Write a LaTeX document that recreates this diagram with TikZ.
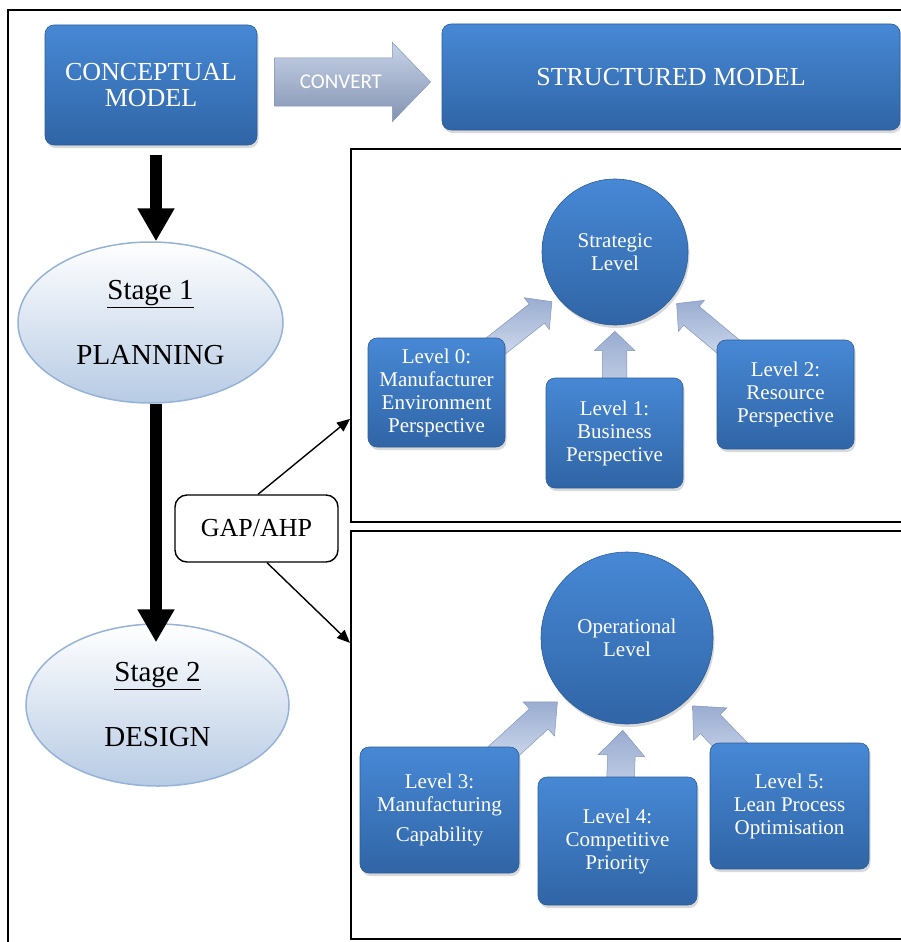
\documentclass[tikz,border=0pt]{standalone}
\usepackage{fontspec}
\setmainfont{Liberation Serif}
\newfontfamily\convertfont{Carlito}
\usetikzlibrary{backgrounds,arrows.meta,shapes,shapes.arrows,shapes.geometric,positioning,shadows,calc}
\definecolor{bluetop}{HTML}{4788D5}
\definecolor{bluebot}{HTML}{3065A6}
\definecolor{blueline}{HTML}{2B5C9A}
\definecolor{ovalline}{HTML}{95B3D7}
\definecolor{ovalbot}{HTML}{B7CBE4}
\definecolor{arrowdark}{HTML}{9AADD1}
\definecolor{arrowlight}{HTML}{E4EBF6}
\definecolor{arrowline}{HTML}{8396BD}
\tikzset{
	level/.style={
		rectangle,
		rounded corners=9pt,
		draw=blueline, line width=0.6pt,
		top color=bluetop, bottom color=bluebot,
		drop shadow={shadow xshift=1.5pt, shadow yshift=-3pt, opacity=0.3},
		text=white,
		align=center,
		inner sep=0pt,
		font=\fontsize{21}{23}\selectfont,
	},
	hub/.style={level, circle},
	stage/.style={
		ellipse,
		draw=ovalline, line width=1.5pt,
		top color=white, bottom color=ovalbot,
		inner sep=0pt,
		align=center,
		font=\fontsize{29}{35}\selectfont,
	},
	tag/.style={
		rectangle,
		rounded corners=12pt,
		draw, line width=1.4pt,
		fill=white,
		font=\fontsize{26}{26}\selectfont,
	},
	panel/.style={draw, line width=1.8pt, inner sep=0pt, anchor=north west},
	convert/.style={
		single arrow,
		single arrow head extend=15.5pt, single arrow tip angle=92,
		minimum width=79pt, minimum height=156pt,
		draw=arrowline, line width=0.5pt,
		top color=arrowlight!60!arrowdark, bottom color=arrowdark!85!black,
		text=white, inner xsep=0pt, inner ysep=17pt,
		font=\convertfont\fontsize{21}{21}\selectfont,
	},
	lift/.style={
		single arrow,
		single arrow head extend=8pt, single arrow tip angle=93,
		minimum height=110pt,
		draw=arrowline, line width=0.5pt,
		top color=arrowdark, bottom color=arrowlight,
		inner xsep=0pt, inner ysep=12pt,
		sloped, allow upside down, pos=1, anchor=tip,
	},
	biglift/.style={lift, single arrow head extend=9.5pt, single arrow tip angle=85, inner ysep=13.5pt},
	heavy/.style={line width=12pt, -{Triangle[width=35pt,length=33pt]}},
	link/.style={line width=1.4pt, -{Triangle[width=11pt,length=13pt]}},
}

\begin{document}
\begin{tikzpicture}[x=1pt,y=-1pt]
\useasboundingbox (0,0) rectangle (901,942);
\draw[line width=1.5pt] (8,960) -- (8,10) -- (930,10);

\node	(stratpanel)	[panel, minimum width=580pt, minimum height=373pt]	at (350,148)	{};
\node	(oppanel)	[panel, minimum width=580pt, minimum height=408pt]	at (350,530)	{};

\node	(concept)	[level, font=\fontsize{26}{26}\selectfont, minimum width=212pt, minimum height=120pt]	at (151,85)	{CONCEPTUAL\\MODEL};
\node	(structured)	[level, font=\fontsize{26}{26}\selectfont, minimum width=458pt, minimum height=106pt]	at (671,77)	{STRUCTURED MODEL};
\node	(conv)	[convert]	[right=17pt of concept, yshift=3pt]	{CONVERT};

\node	(stage1)	[stage, minimum width=265pt, minimum height=161pt]	at (150.5,322.5)	{\underline{Stage 1}\\[30pt]PLANNING};
\node	(stage2)	[stage, minimum width=263pt, minimum height=162pt]	at (157.5,705)	{\underline{Stage 2}\\[30pt]DESIGN};
\node	(gap)	[tag, minimum width=163pt, minimum height=67pt]	at (256.5,528.5)	{GAP/AHP};

\node	(strat)	[hub, minimum size=146pt]	at (615,252)	{Strategic\\Level};
\node	(l0)	[level, minimum width=137pt, minimum height=109pt]	at (436.5,392.5)	{Level 0:\\Manufacturer\\Environment\\Perspective};
\node	(l1)	[level, minimum width=137pt, minimum height=110pt]	at (614.5,433)	{Level 1:\\Business\\Perspective};
\node	(l2)	[level, minimum width=137pt, minimum height=109pt]	at (785.5,394.5)	{Level 2:\\Resource\\Perspective};

\node	(oper)	[hub, minimum size=172pt]	at (627,638)	{Operational\\Level};
\node	(l3)	[level, minimum width=159pt, minimum height=126pt]	at (439.5,810)	{Level 3:\\Manufacturing\\[7pt]Capability};
\node	(l4)	[level, minimum width=159pt, minimum height=128pt]	at (617.5,841)	{Level 4:\\Competitive\\Priority};
\node	(l5)	[level, minimum width=159pt, minimum height=126pt]	at (789.5,806)	{Level 5:\\Lean Process\\Optimisation};

\begin{pgfonlayer}{background}
\path (l0) -- node[lift] {} ($(strat)!80pt!(l0)$);
\path (l1) -- node[lift] {} ($(strat)!79pt!(l1)$);
\path (l2) -- node[lift] {} ($(strat)!80pt!(l2)$);
\path (l3) -- node[biglift] {} ($(oper)!94pt!(l3)$);
\path (l4) -- node[biglift] {} ($(oper)!92pt!(l4)$);
\path (l5) -- node[biglift] {} ($(oper)!94pt!(l5)$);
\end{pgfonlayer}

\draw[heavy] ([xshift=5pt,yshift=-10pt]concept.south) -- ([xshift=5pt]concept.south |- stage1.north);
\draw[heavy] ([xshift=5.5pt]stage1.south) -- ([xshift=-1.5pt,yshift=-19pt]stage2.north);
\draw[link] ([xshift=1.5pt]gap.north) -- ([yshift=-83.5pt]stratpanel.west);
\draw[link] ([xshift=10.5pt]gap.south) -- ([yshift=92pt]oppanel.west);

\end{tikzpicture}
\end{document}
